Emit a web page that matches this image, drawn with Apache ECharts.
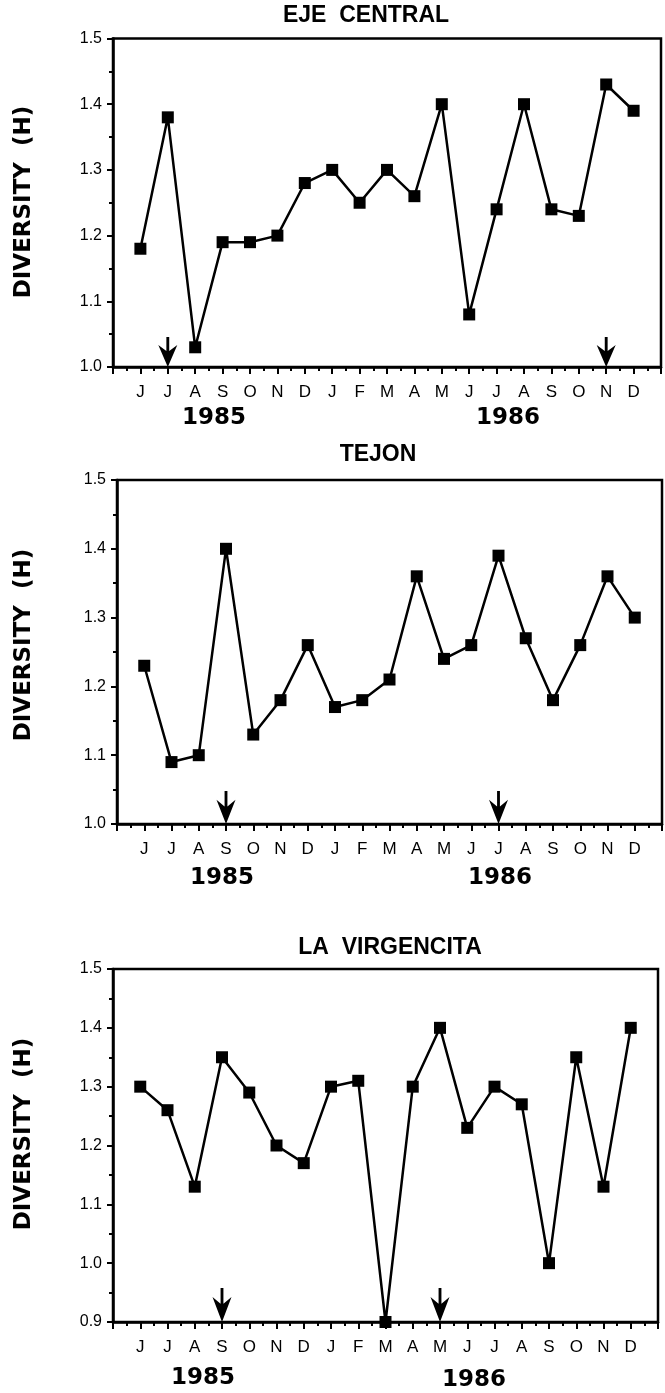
<!DOCTYPE html>
<html lang="en">
<head>
  <meta charset="UTF-8">
  <title>Diversity (H)</title>
  <script src="https://cdn.jsdelivr.net/npm/echarts@6/dist/echarts.min.js"></script>
  <style>
    html, body { margin: 0; padding: 0; background: #fff; }
    #chart { width: 665px; height: 1393px; }
  </style>
</head>
<body>
  <div id="chart"></div>
  <script>
    // months June 1985 .. December 1986
    const months = ['J','J','A','S','O','N','D','J','F','M','A','M','J','J','A','S','O','N','D'];

    const ejeCentral   = [1.18,1.38,1.03,1.19,1.19,1.20,1.28,1.30,1.25,1.30,1.26,1.40,1.08,1.24,1.40,1.24,1.23,1.43,1.39];
    const tejon        = [1.23,1.09,1.10,1.40,1.13,1.18,1.26,1.17,1.18,1.21,1.36,1.24,1.26,1.39,1.27,1.18,1.26,1.36,1.30];
    const laVirgencita = [1.30,1.26,1.13,1.35,1.29,1.20,1.17,1.30,1.31,0.90,1.30,1.40,1.23,1.30,1.27,1.00,1.35,1.13,1.40];

    // month index where arrows point down at the axis
    const ejeArrows = [1, 17];
    const tejonArrows = [3, 13];
    const virgArrows = [3, 11];

    const yMins = [1.0, 1.0, 0.9];

    const panels = [
      { name: 'EJE  CENTRAL', data: ejeCentral, arrows: ejeArrows, grid: {left: 113, top: 38.5, right: 4, height: 328.5}, arrowLen: 30,
        titleX: 366, titleY: 16, nameY: 202, y85: [214, 418], y86: [508, 418] },
      { name: 'TEJON', data: tejon, arrows: tejonArrows, grid: {left: 117, top: 480, right: 3, height: 344}, arrowLen: 33,
        titleX: 378, titleY: 455, nameY: 645, y85: [222, 878], y86: [500, 878] },
      { name: 'LA  VIRGENCITA', data: laVirgencita, arrows: virgArrows, grid: {left: 113, top: 969, right: 7, height: 353}, arrowLen: 34,
        titleX: 390, titleY: 948, nameY: 1134, y85: [203, 1378], y86: [474, 1380] }
    ];

    // shaft plus a barbed head, tip at the bottom
    const arrowPath = 'path://M8.5,0L11.5,0L11.5,14L20,8L10,30L0,8L8.5,14Z';

    const grids = [], xAxes = [], yAxes = [], series = [], graphic = [];

    panels.forEach((p, i) => {
      grids.push(Object.assign({show: true, borderColor: '#000', borderWidth: 2.5, backgroundColor: 'transparent'}, p.grid));
      xAxes.push({
        gridIndex: i, type: 'value', min: -1, max: 19, interval: 1,
        axisLine: {onZero: false, lineStyle: {color: '#000', width: 2.5}},
        axisTick: {length: 7, lineStyle: {color: '#000', width: 2}},
        minorTick: {show: true, splitNumber: 2, length: 4, lineStyle: {color: '#000', width: 2}},
        splitLine: {show: false},
        axisLabel: {
          margin: 17, color: '#000', fontSize: 17, fontFamily: 'Liberation Sans, Arial, sans-serif',
          showMinLabel: true, showMaxLabel: true,
          formatter: v => (v >= 0 && v < months.length) ? months[Math.round(v)] : ''
        }
      });
      yAxes.push({
        gridIndex: i, type: 'value', min: yMins[i], max: 1.5, interval: 0.1,
        axisLine: {onZero: false, lineStyle: {color: '#000', width: 2.5}},
        axisTick: {length: 6, lineStyle: {color: '#000', width: 2}},
        minorTick: {show: true, splitNumber: 2, length: 4, lineStyle: {color: '#000', width: 2}},
        splitLine: {show: false},
        axisLabel: {margin: 11, color: '#000', fontSize: 16, fontFamily: 'Liberation Sans, Arial, sans-serif',
          formatter: v => v.toFixed(1)}
      });
      series.push({
        type: 'line', xAxisIndex: i, yAxisIndex: i, clip: false,
        data: p.data.map((v, k) => [k, v]),
        symbol: 'rect', symbolSize: 12,
        lineStyle: {color: '#000', width: 2.5},
        itemStyle: {color: '#000', opacity: 1}
      });
      series.push({
        type: 'scatter', xAxisIndex: i, yAxisIndex: i, z: 5,
        data: p.arrows.map(k => [k, yMins[i]]),
        symbol: arrowPath, symbolSize: [19, p.arrowLen], symbolOffset: [0, '-50%'],
        itemStyle: {color: '#000', opacity: 1}
      });
      graphic.push({
        type: 'text', x: p.titleX, y: p.titleY,
        style: {text: p.name, font: 'bold 23px "Liberation Sans", Arial, sans-serif', fill: '#000',
          textAlign: 'center', textVerticalAlign: 'middle', align: 'center', verticalAlign: 'middle'}
      });
      graphic.push({
        type: 'text', x: 24, y: p.nameY, rotation: Math.PI / 2,
        style: {text: 'DIVERSITY  (H)', font: 'bold 23px "DejaVu Sans", sans-serif', fill: '#000',
          textAlign: 'center', textVerticalAlign: 'middle', align: 'center', verticalAlign: 'middle'}
      });
      [['1985', p.y85], ['1986', p.y86]].forEach(([t, pos]) => {
        graphic.push({
          type: 'text', x: pos[0], y: pos[1],
          style: {text: t, font: 'bold 23px "DejaVu Sans", sans-serif', fill: '#000',
            textAlign: 'center', textVerticalAlign: 'middle', align: 'center', verticalAlign: 'middle'}
        });
      });
    });

    const chart = echarts.init(document.getElementById('chart'), null, {renderer: 'canvas'});
    chart.setOption({
      animation: false,
      backgroundColor: '#fff',
      grid: grids,
      xAxis: xAxes,
      yAxis: yAxes,
      series: series,
      graphic: graphic
    });
  </script>
</body>
</html>
